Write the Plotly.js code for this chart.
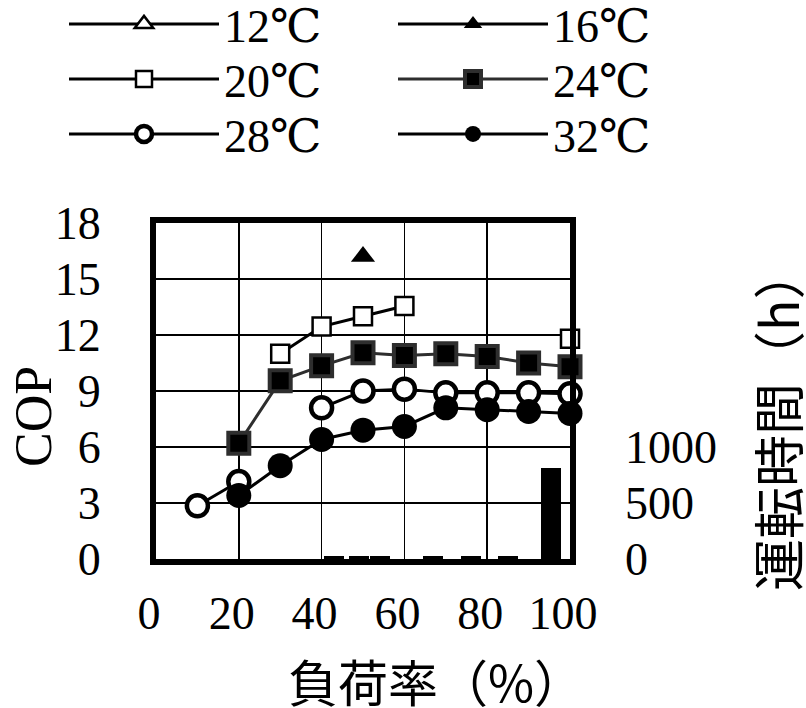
<!DOCTYPE html>
<html>
<head>
<meta charset="utf-8">
<script src="https://cdn.plot.ly/plotly-3.0.1.min.js"></script>
<style>html,body{margin:0;padding:0;background:#fff}#chart{width:806px;height:708px}</style>
</head>
<body>
<div id="chart"></div>
<script>
// ---- data ----
const loadRate = [10, 20, 30, 40, 50, 60, 70, 80, 90, 100];
const cop12 = [null, null, null, null, null, null, null, null, null, null];
const cop16 = [null, null, null, null, 16.2, null, null, null, null, null];
const cop20 = [null, null, 11.0, 12.45, 13.0, 13.55, null, null, null, 11.8];
const cop24 = [null, 6.2, 9.55, 10.35, 11.05, 10.9, 11.0, 10.85, 10.5, 10.3];
const cop28 = [2.85, 4.15, null, 8.1, 9.0, 9.1, 8.9, 8.9, 8.9, 8.85];
const cop32 = [null, 3.4, 5.0, 6.4, 6.9, 7.1, 8.1, 8.0, 7.9, 7.8];
const hourBins = [43, 49, 54, 67, 76, 85, 95.5];
const hours = [25, 25, 25, 25, 25, 25, 810];
const seriesNames = ['12℃', '16℃', '20℃', '24℃', '28℃', '32℃'];
const xTicks = [0, 20, 40, 60, 80, 100];
const copTicks = [0, 3, 6, 9, 12, 15, 18];
const hourTicks = [0, 500, 1000];
const xTitle = '負荷率（%）';
const yTitle = 'COP';
const y2Title = '運転時間（h）';

// ---- styles ----
const SERIF = '"Liberation Serif", "DejaVu Serif", "Noto Sans CJK JP", serif';
const CJK = '"Noto Sans CJK JP", "Liberation Serif", sans-serif';
const styles = [
  {sym: 'triangle-up', size: 21, color: '#fff', lc: '#000', lw: 2.5, line: '#000'},
  {sym: 'triangle-up', size: 21, color: '#000', lc: '#000', lw: 0, line: '#000'},
  {sym: 'square', size: 18, color: '#fff', lc: '#000', lw: 2.5, line: '#000'},
  {sym: 'square', size: 21, color: '#000', lc: '#2e2e2e', lw: 4, line: '#2e2e2e'},
  {sym: 'circle', size: 21, color: '#fff', lc: '#000', lw: 4.5, line: '#000'},
  {sym: 'circle', size: 25, color: '#000', lc: '#000', lw: 0, line: '#000'}
];
const copSeries = [cop12, cop16, cop20, cop24, cop28, cop32];

const legendNames = ['legend', 'legend2', 'legend3', 'legend4', 'legend5', 'legend6'];
const traces = copSeries.map((ys, i) => ({
  type: 'scatter', mode: 'lines+markers',
  x: loadRate, y: ys, name: seriesNames[i],
  legend: legendNames[i],
  cliponaxis: false, connectgaps: false,
  line: {color: styles[i].line, width: 3},
  marker: {symbol: styles[i].sym, size: styles[i].size, color: styles[i].color,
           line: {color: styles[i].lc, width: styles[i].lw}}
}));
traces.push({
  type: 'bar', x: hourBins, y: hours, yaxis: 'y2', width: 4.8,
  marker: {color: '#000', line: {width: 0}}, showlegend: false
});

const rowsY = [24, 79, 134];
const colsX = [64, 393];
const PL = 156, PR = 570, PT = 223, PB = 559;
const pw = PR - PL, ph = PB - PT;
const layout = {
  width: 806, height: 708,
  margin: {l: PL, r: 806 - PR, t: PT, b: 708 - PB, pad: 0, autoexpand: false},
  paper_bgcolor: '#fff', plot_bgcolor: '#fff',
  font: {family: SERIF, size: 46, color: '#000'},
  showlegend: true,
  bargap: 0,
  xaxis: {
    range: [0, 100], tickmode: 'array', tickvals: xTicks, ticktext: xTicks.map(String),
    showgrid: true, gridcolor: '#000', gridwidth: 1.6, zeroline: false,
    showline: true, linecolor: '#000', linewidth: 6, mirror: true, ticks: '',
    tickfont: {family: SERIF, size: 46, color: '#000'},
    ticklabelstandoff: 9, ticklabelshift: -7, automargin: false
  },
  yaxis: {
    range: [0, 18], tickmode: 'array', tickvals: copTicks, ticktext: copTicks.map(String),
    showgrid: true, gridcolor: '#000', gridwidth: 1.6, zeroline: false,
    showline: true, linecolor: '#000', linewidth: 6, mirror: true, ticks: '',
    tickfont: {family: SERIF, size: 46, color: '#000'},
    ticklabelstandoff: 40, automargin: false
  },
  yaxis2: {
    overlaying: 'y', side: 'right', range: [0, 3000], tickmode: 'array',
    tickvals: hourTicks, ticktext: hourTicks.map(String),
    showgrid: false, zeroline: false, showline: false, ticks: '',
    tickfont: {family: SERIF, size: 46, color: '#000'},
    ticklabelstandoff: 54, automargin: false
  },
  annotations: [
    {text: yTitle, xref: 'paper', yref: 'paper', x: (33 - PL) / pw, y: (PB - 417) / ph,
     textangle: -90, showarrow: false, xanchor: 'center', yanchor: 'middle', borderpad: 0,
     font: {family: SERIF, size: 52, color: '#000'}},
    {text: xTitle, xref: 'paper', yref: 'paper', x: (436 - PL) / pw, y: (PB - 680) / ph,
     showarrow: false, xanchor: 'center', yanchor: 'middle', borderpad: 0,
     font: {family: CJK, size: 50, color: '#000'}},
    {text: y2Title, xref: 'paper', yref: 'paper', x: (776 - PL) / pw, y: (PB - 419) / ph,
     textangle: -90, showarrow: false, xanchor: 'center', yanchor: 'middle', borderpad: 0,
     font: {family: CJK, size: 52, color: '#000'}}
  ]
};
legendNames.forEach((ln, i) => {
  const col = i % 2, row = Math.floor(i / 2);
  layout[ln] = {
    xref: 'container', yref: 'container',
    x: colsX[col] / 806, y: 1 - rowsY[row] / 708,
    xanchor: 'left', yanchor: 'middle',
    orientation: 'v', itemwidth: 150,
    bgcolor: 'rgba(0,0,0,0)', borderwidth: 0,
    font: {family: SERIF, size: 46, color: '#000'}
  };
});

Plotly.newPlot('chart', traces, layout, {displayModeBar: false, staticPlot: true});
</script>
</body>
</html>
